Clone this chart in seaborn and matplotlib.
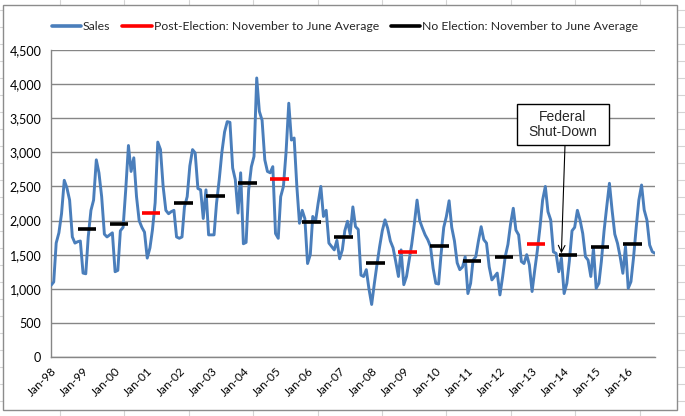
import numpy as np
import pandas as pd
import matplotlib
matplotlib.use("Agg")
import matplotlib.pyplot as plt
from matplotlib.lines import Line2D
from matplotlib.patches import Rectangle
import seaborn as sns

# ---------------- data ----------------
s1998 = [1050, 1100, 1670, 1820, 2100, 2590, 2480, 2300, 1760, 1670, 1690, 1700]
s1999 = [1230, 1220, 1760, 2150, 2300, 2890, 2700, 2350, 1800, 1760, 1790, 1820]
s2000 = [1250, 1270, 1850, 1900, 2450, 3100, 2720, 2920, 2350, 2000, 1900, 1830]
s2001 = [1450, 1600, 1860, 2260, 3150, 3040, 2500, 2150, 2100, 2130, 2150, 1760]
s2002 = [1740, 1760, 2200, 2350, 2800, 3040, 2990, 2470, 2450, 2030, 2450, 1790]
s2003 = [1790, 1790, 2250, 2600, 3000, 3300, 3450, 3440, 2770, 2600, 2110, 2700]
s2004 = [1660, 1680, 2450, 2790, 2940, 4090, 3600, 3470, 2890, 2720, 2700, 2790]
s2005 = [1810, 1740, 2350, 2500, 3000, 3720, 3180, 3210, 2500, 1960, 2150, 2030]
s2006 = [1370, 1500, 2060, 1980, 2250, 2500, 2060, 2150, 1670, 1620, 1570, 1710]
s2007 = [1440, 1570, 1850, 1990, 1800, 2200, 1910, 1870, 1200, 1180, 1280, 1000]
s2008 = [770, 1080, 1350, 1620, 1850, 2010, 1890, 1700, 1600, 1400, 1180, 1570]
s2009 = [1060, 1180, 1400, 1650, 1950, 2300, 2000, 1890, 1790, 1720, 1620, 1300]
s2010 = [1080, 1070, 1500, 1900, 2060, 2290, 1900, 1700, 1380, 1280, 1320, 1470]
s2011 = [930, 1080, 1420, 1470, 1700, 1910, 1720, 1670, 1320, 1130, 1180, 1230]
s2012 = [910, 1180, 1470, 1650, 1950, 2180, 1860, 1790, 1400, 1370, 1500, 1350]
s2013 = [960, 1280, 1550, 1900, 2300, 2500, 2130, 2010, 1540, 1520, 1250, 1450]
s2014 = [930, 1080, 1400, 1850, 1900, 2150, 2010, 1810, 1470, 1420, 1180, 1590]
s2015 = [1007, 1080, 1400, 1850, 2200, 2546, 2155, 1800, 1666, 1470, 1227, 1617]
s2016 = [1007, 1104, 1450, 1900, 2300, 2521, 2155, 2008, 1642, 1543, 1520]

sales = (s1998 + s1999 + s2000 + s2001 + s2002 + s2003 + s2004 + s2005 + s2006 +
         s2007 + s2008 + s2009 + s2010 + s2011 + s2012 + s2013 + s2014 + s2015 + s2016)
months = pd.date_range("1998-01-01", periods=len(sales), freq="MS")

# November-to-June averages (start year of the November)
avg_start_years = list(range(1998, 2016))
avg_values = [1872, 1945, 2106, 2253, 2355, 2546, 2609, 1974, 1754,
              1378, 1534, 1622, 1402, 1461, 1656, 1490, 1607, 1656]
post_election = [False, False, True, False, False, False, True, False, False,
                 False, True, False, False, False, True, False, False, False]

tick_labels = ["Jan-98", "Jan-99", "Jan-00", "Jan-01", "Jan-02", "Jan-03", "Jan-04",
               "Jan-05", "Jan-06", "Jan-07", "Jan-08", "Jan-09", "Jan-10", "Jan-11",
               "Jan-12", "Jan-13", "Jan-14", "Jan-15", "Jan-16"]
y_ticks = [0, 500, 1000, 1500, 2000, 2500, 3000, 3500, 4000, 4500]

annot_text = "Federal\nShut-Down"
annot_date = "2013-12-01"
annot_value = 1520

# ---------------- style ----------------
sns.set_theme(style="white")
plt.rcParams["font.family"] = ["Lato", "DejaVu Sans"]

W, H = 685, 416
fig = plt.figure(figsize=(W / 100, H / 100), dpi=100)

# spreadsheet cell grid behind the chart
for x in np.arange(60, W, 64.4):
    fig.add_artist(Line2D([x / W, x / W], [0, 1], transform=fig.transFigure,
                          color="#d4d4d4", lw=0.8, zorder=-5))
for y in np.arange(10, H, 17):
    fig.add_artist(Line2D([0, 1], [1 - y / H, 1 - y / H], transform=fig.transFigure,
                          color="#d4d4d4", lw=0.8, zorder=-5))
# chart area
fig.add_artist(Rectangle((3 / W, 1 - 410 / H), (677 - 3) / W, (410 - 5) / H,
                         transform=fig.transFigure, facecolor="white",
                         edgecolor="#8c8c8c", lw=1.0, zorder=-4))

ax = fig.add_axes([51 / W, 1 - 357 / H, (655 - 51) / W, (357 - 50) / H])
ax.set_facecolor("none")

df = pd.DataFrame({"Month": months, "Sales": sales})
sns.lineplot(data=df, x="Month", y="Sales", ax=ax, color="#4A7EBB", lw=2.1,
             legend=False, zorder=3)

for yr, val, post in zip(avg_start_years, avg_values, post_election):
    ax.hlines(val, pd.Timestamp(f"{yr}-11-01"), pd.Timestamp(f"{yr + 1}-06-01"),
              color="#FF0000" if post else "black", lw=2.6, zorder=4)

# axes
ax.set_xlim(months[0], months[-1])
ax.set_ylim(0, 4500)
ax.set_yticks(y_ticks)
ax.set_yticklabels([f"{v:,}" for v in y_ticks])
xt = pd.date_range("1998-01-01", "2016-01-01", freq="YS")
ax.set_xticks(xt)
ax.set_xticklabels(tick_labels, rotation=45, ha="right", rotation_mode="anchor")
ax.set_xlabel("")
ax.set_ylabel("")
ax.grid(axis="y", color="#868686", lw=1.0)
ax.set_axisbelow(True)
for s in ["top", "right"]:
    ax.spines[s].set_visible(False)
for s in ["left", "bottom"]:
    ax.spines[s].set_color("#868686")
    ax.spines[s].set_linewidth(1.0)
ax.tick_params(axis="both", which="major", direction="out", length=4, width=1,
               color="#868686", labelcolor="black")
ax.tick_params(axis="y", labelsize=9, pad=3)
ax.tick_params(axis="x", labelsize=8.5, pad=2)

# legend
handles = [Line2D([], [], color="#4A7EBB", lw=2.6),
           Line2D([], [], color="#FF0000", lw=2.6),
           Line2D([], [], color="black", lw=2.6)]
labels = ["Sales", "Post-Election: November to June Average",
          "No Election: November to June Average"]
fig.legend(handles, labels, loc="center", bbox_to_anchor=(345 / W, 1 - 27 / H),
           ncol=3, frameon=False, fontsize=8.8, handlelength=2.4, handletextpad=0.15,
           columnspacing=1.0, borderpad=0.2)

# annotation
fig.add_artist(Rectangle((517 / W, 1 - 145 / H), 92 / W, 41 / H, transform=fig.transFigure,
                         facecolor="white", edgecolor="black", lw=1.0, zorder=5))
fig.text(563 / W, 1 - 124.5 / H, annot_text, ha="center", va="center",
         fontsize=10, family=["Liberation Sans", "DejaVu Sans"], zorder=6,
         linespacing=1.15)
ax.annotate("", xy=(pd.Timestamp(annot_date), annot_value),
            xytext=(565, H - 145), textcoords="figure pixels",
            arrowprops=dict(arrowstyle="->", color="black", lw=0.8,
                            shrinkA=0, shrinkB=0, mutation_scale=12),
            zorder=6)

fig.savefig("out.png", dpi=100)
